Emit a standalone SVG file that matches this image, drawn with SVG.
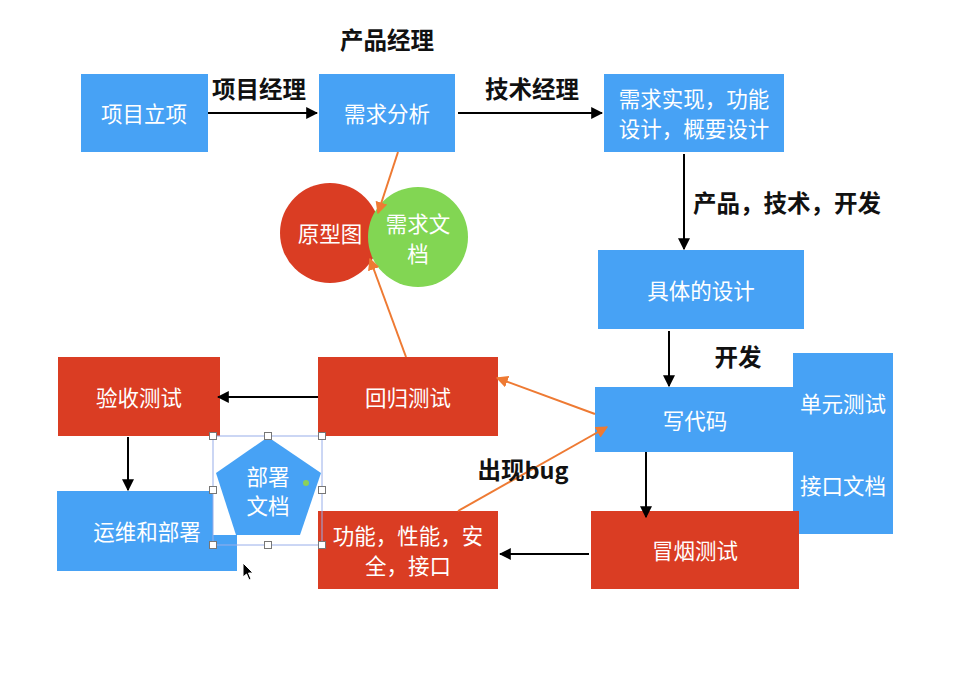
<svg xmlns="http://www.w3.org/2000/svg" width="958" height="674" viewBox="0 0 958 674">
<defs>
<style>
.blue{fill:#47A2F5}
.red{fill:#DA3D23}
.t{font-family:"Noto Sans CJK SC","Liberation Sans",sans-serif;font-size:21.500px;fill:#fff;text-anchor:middle;dominant-baseline:central}
.lbl{font-family:"Noto Sans CJK SC","Liberation Sans",sans-serif;font-size:23.500px;font-weight:bold;fill:#111;text-anchor:middle;dominant-baseline:central}
.k{stroke:#000;stroke-width:2;fill:none}
.o{stroke:#EE7A33;stroke-width:2;fill:none}
.h{fill:#fff;stroke:#777;stroke-width:1}
</style>
<marker id="ak" viewBox="0 0 10 10" refX="9" refY="5" markerWidth="6" markerHeight="6" orient="auto"><path d="M0,0L10,5L0,10z" fill="#000"/></marker>
<marker id="ao" viewBox="0 0 10 10" refX="9" refY="5" markerWidth="6" markerHeight="6" orient="auto"><path d="M0,0L10,5L0,10z" fill="#EE7A33"/></marker>
</defs>
<rect width="958" height="674" fill="#fff"/>

<g id="n-xmlx"><rect class="blue" x="81" y="74" width="127" height="78"/><text class="t" x="144" y="112">项目立项</text></g>
<g id="n-xqfx"><rect class="blue" x="319" y="74" width="136" height="78"/><text class="t" x="387" y="112">需求分析</text></g>
<g id="n-xqsx"><rect class="blue" x="604" y="74" width="180" height="78"/><text class="t" x="694" y="97">需求实现，功能</text><text class="t" x="694" y="127">设计，概要设计</text></g>
<g id="n-jtsj"><rect class="blue" x="598" y="250" width="206" height="79"/><text class="t" x="701" y="289">具体的设计</text></g>
<g id="n-xdm"><rect class="blue" x="595" y="387" width="200" height="65"/><text class="t" x="695" y="419">写代码</text></g>
<g id="n-dycs"><rect class="blue" x="793" y="353" width="100" height="181"/><text class="t" x="843" y="402">单元测试</text><text class="t" x="843" y="484">接口文档</text></g>
<g id="n-mycs"><rect class="red" x="591" y="511" width="208" height="78"/><text class="t" x="695" y="549">冒烟测试</text></g>
<g id="n-gn"><rect class="red" x="318" y="511" width="180" height="78"/><text class="t" x="408" y="534">功能，性能，安</text><text class="t" x="408" y="564">全，接口</text></g>
<g id="n-hgcs"><rect class="red" x="318" y="357" width="180" height="79"/><text class="t" x="408" y="396">回归测试</text></g>
<g id="n-yscs"><rect class="red" x="58" y="357" width="162" height="79"/><text class="t" x="139" y="396">验收测试</text></g>
<g id="n-ywbs"><rect class="blue" x="57" y="491" width="180" height="80"/><text class="t" x="147" y="530">运维和部署</text></g>
<g id="n-yxt"><circle cx="330" cy="233" r="50" fill="#DA3D23"/><text class="t" x="330" y="232">原型图</text></g>
<g id="n-xqwd"><circle cx="418" cy="237" r="50" fill="#82D653"/><text class="t" x="418" y="222">需求文</text><text class="t" x="418" y="252">档</text></g>
<g id="n-bswd">
<rect x="213" y="436" width="105" height="99" fill="#fff"/>
<polygon class="blue" points="268,437 321,473 300,535 236,535 216,473"/>
<text class="t" x="268" y="475">部署</text><text class="t" x="268" y="504">文档</text>
<circle cx="306" cy="483" r="3" fill="#8BD05A"/>
<rect x="213" y="436" width="109" height="109" fill="none" stroke="#98AEEA" stroke-width="1"/>
<rect class="h" x="209.500" y="432.500" width="7" height="7"/>
<rect class="h" x="264.500" y="432.500" width="7" height="7"/>
<rect class="h" x="318.500" y="432.500" width="7" height="7"/>
<rect class="h" x="209.500" y="486.500" width="7" height="7"/>
<rect class="h" x="318.500" y="486.500" width="7" height="7"/>
<rect class="h" x="209.500" y="541.500" width="7" height="7"/>
<rect class="h" x="264.500" y="541.500" width="7" height="7"/>
<rect class="h" x="318.500" y="541.500" width="7" height="7"/>
</g>
<g id="cursor"><path d="M243,563 L243,577 L246.500,574 L249,580 L251,579 L248.500,573 L253,573 Z" fill="#000" stroke="#fff" stroke-width="1"/></g>

<g id="connectors">
<line class="k" x1="208" y1="113" x2="317" y2="113" marker-end="url(#ak)"/>
<line class="k" x1="458" y1="113" x2="602" y2="113" marker-end="url(#ak)"/>
<line class="k" x1="684" y1="154" x2="684" y2="249" marker-end="url(#ak)"/>
<line class="k" x1="669" y1="331" x2="669" y2="386" marker-end="url(#ak)"/>
<line class="k" x1="646" y1="452" x2="646" y2="517" marker-end="url(#ak)"/>
<line class="k" x1="589" y1="554" x2="500" y2="554" marker-end="url(#ak)"/>
<line class="k" x1="318" y1="397" x2="218" y2="397" marker-end="url(#ak)"/>
<line class="k" x1="128" y1="437" x2="128" y2="490" marker-end="url(#ak)"/>
<line class="o" x1="595" y1="414" x2="497" y2="378" marker-end="url(#ao)"/>
<line class="o" x1="458" y1="511" x2="607" y2="427" marker-end="url(#ao)"/>
<line class="o" x1="398" y1="152" x2="378" y2="213" marker-end="url(#ao)"/>
<line class="o" x1="406" y1="357" x2="370" y2="259" marker-end="url(#ao)"/>
</g>

<g id="labels">
<text class="lbl" x="387" y="39">产品经理</text>
<text class="lbl" x="259" y="88">项目经理</text>
<text class="lbl" x="532" y="88">技术经理</text>
<text class="lbl" x="787" y="202">产品，技术，开发</text>
<text class="lbl" x="738" y="356">开发</text>
<text class="lbl" x="523" y="469">出现bug</text>
</g>
</svg>
